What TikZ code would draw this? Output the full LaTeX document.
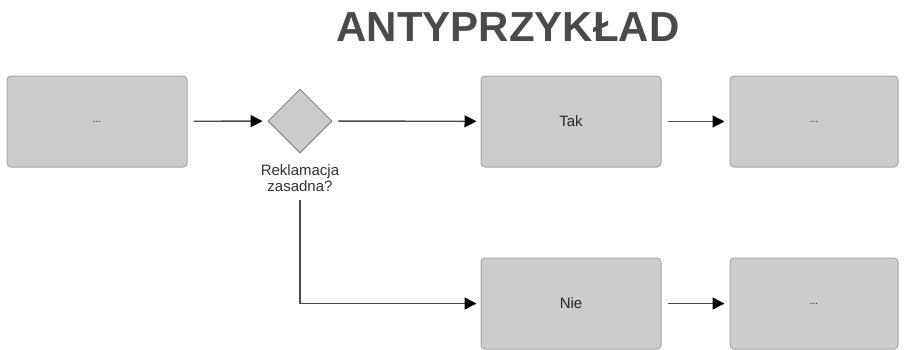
\documentclass[tikz,border=0pt]{standalone}
\usepackage{fontspec}
\setmainfont{Liberation Sans}
\usetikzlibrary{shapes.geometric,arrows.meta}
\definecolor{boxfill}{HTML}{CCCCCC}
\definecolor{boxdraw}{HTML}{A6A6A6}
\definecolor{linec}{HTML}{4A4A4A}
\definecolor{titlec}{HTML}{4A4A4A}
\begin{document}
\begin{tikzpicture}[x=1pt,y=-1pt,
  procbox/.style={draw=boxdraw,fill=boxfill,rounded corners=4pt,line width=1pt,minimum width=180pt,minimum height=91pt,inner sep=0pt,text=black!85,font=\fontsize{15}{17}\selectfont},
  dots/.style={font=\fontsize{10}{12}\selectfont},
  gate/.style={draw=boxdraw!80!black,fill=boxfill,diamond,line width=1pt,minimum width=64pt,minimum height=64pt,inner sep=0pt},
  conn/.style={draw=linec,line width=1.4pt,-{Triangle[length=12pt,width=12pt,color=black]}}]
\useasboundingbox (0,0) rectangle (905,349);
\node[font=\bfseries\fontsize{42}{44}\selectfont,text=titlec] (title) at (508,27) {ANTYPRZYKŁAD};
\node[procbox,dots] (b1) at (97,121.5) {...};
\node[gate] (g) at (300,121) {};
\node[align=center,text=black!80,font=\fontsize{15}{16.5}\selectfont,inner sep=0pt] (gl) at (300,178) {Reklamacja\\zasadna?};
\node[procbox] (tak) at (571,121.5) {Tak};
\node[procbox,dots,minimum width=168pt] (b3) at (814,121.5) {...};
\node[procbox] (nie) at (571,303.5) {Nie};
\node[procbox,dots,minimum width=168pt] (b4) at (814,303.5) {...};
\coordinate (vstart) at (300,200);
\draw[conn,shorten <=6pt,shorten >=5pt] (b1) -- (g);
\draw[conn,shorten <=6pt,shorten >=4pt] (g) -- (tak);
\draw[conn,shorten <=6pt,shorten >=5pt] (tak) -- (b3);
\draw[conn,shorten >=4pt] (vstart) |- (nie);
\draw[conn,shorten <=6pt,shorten >=5pt] (nie) -- (b4);
\end{tikzpicture}
\end{document}
